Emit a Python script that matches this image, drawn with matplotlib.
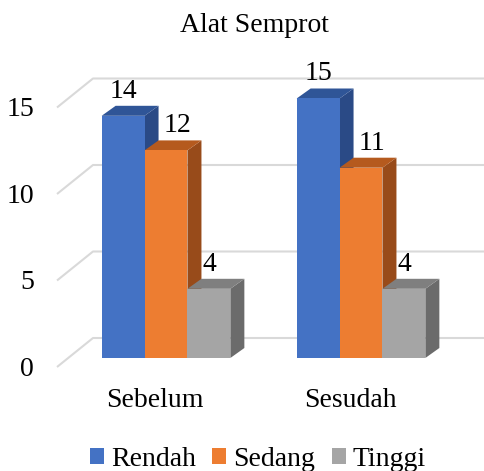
import matplotlib
matplotlib.use("Agg")
import matplotlib.pyplot as plt
from matplotlib.patches import Polygon, Patch

categories = ["Sebelum", "Sesudah"]
series = ["Rendah", "Sedang", "Tinggi"]
rendah = [14, 15]
sedang = [12, 11]
tinggi = [4, 4]
yticks = [0, 5, 10, 15]

front_col = ["#4472C4", "#ED7D31", "#A5A5A5"]
top_col = ["#2F5597", "#B55A1E", "#7F7F7F"]
side_col = ["#2A4A86", "#984B1A", "#6B6B6B"]

plt.rcParams['font.family'] = ['Liberation Serif', 'DejaVu Serif']
FS = 20

W, H = 484, 471
fig = plt.figure(figsize=(W / 100, H / 100), dpi=100)
ax = fig.add_axes([0, 0, 1, 1])

# pixel scale of the fake 3d projection
gx, gy = 195.0, 17.3      # px per category, px per unit
x0, y0 = 166, 113         # pixel of (category 0, value 0)
ax.set_xlim(-x0 / gx, (W - x0) / gx)
ax.set_ylim(-y0 / gy, (H - y0) / gy)
ax.axis('off')

ddx, ddy = 14 / gx, 10 / gy          # bar depth
floor_f, wall_b = -9 / gy, 20 / gy   # front edge / back wall offset
xl_f, xl_b = (57 - x0) / gx, (93 - x0) / gx
xmax = (W - x0) / gx

# back wall gridlines
for v in yticks:
    ax.plot([xl_f, xl_b, xmax], [v + floor_f, v + wall_b, v + wall_b],
            color="#D9D9D9", lw=1.5, zorder=1, solid_capstyle='butt')
    ax.text((34 - x0) / gx, v + floor_f - 9 / gy, str(v), ha='right',
            va='baseline', fontsize=FS)

data = [rendah, sedang, tinggi]
label_dx = [0, 0.8 * ddx, 0]
w = 0.22
for j, cat in enumerate(categories):
    for i, vals in enumerate(data):
        v = vals[j]
        l = j + (i - 1.5) * w
        r = l + w
        side = Polygon([(r, 0), (r + ddx, ddy), (r + ddx, v + ddy), (r, v)],
                       closed=True, fc=side_col[i], ec='none', zorder=2)
        top = Polygon([(l, v), (r, v), (r + ddx, v + ddy), (l + ddx, v + ddy)],
                      closed=True, fc=top_col[i], ec='none', zorder=2)
        face = Polygon([(l, 0), (r, 0), (r, v), (l, v)], closed=True,
                       fc=front_col[i], ec='none', zorder=2)
        for p in (side, top, face):
            ax.add_patch(p)
        ax.text((l + r) / 2 + label_dx[i], v + 18 / gy, str(v), ha='center',
                va='baseline', fontsize=FS, zorder=3)
    ax.text(j - 11 / gx, -49 / gy, cat, ha='center', va='baseline', fontsize=FS)

fig.text(254 / W, 1 - 32 / H, "Alat Semprot", ha='center', va='baseline',
         fontsize=FS)

handles = [Patch(fc=c, ec='none') for c in front_col]
fig.legend(handles, series, loc='center', bbox_to_anchor=(258 / W, 12 / H),
           ncol=3, frameon=False, fontsize=FS, handlelength=0.5,
           handleheight=0.5, handletextpad=0.25, columnspacing=0.6,
           borderpad=0, borderaxespad=0)

fig.savefig("out.png", dpi=100)
